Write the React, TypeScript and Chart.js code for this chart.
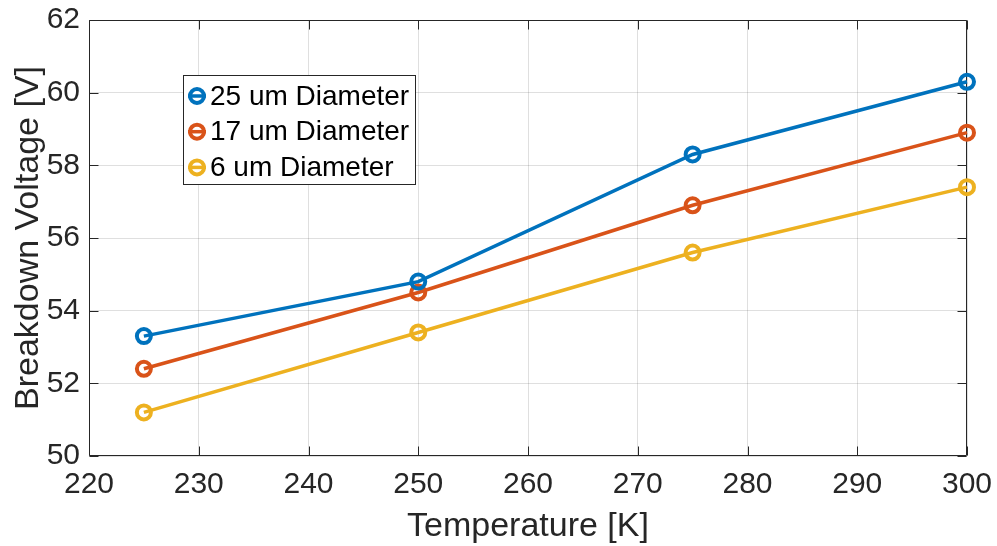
import { useEffect, useRef } from "react";
import { Chart, registerables } from "chart.js";

Chart.register(...registerables);

const temperatures = [225, 250, 275, 300];
const voltage25um = [53.3, 54.8, 58.3, 60.3];
const voltage17um = [52.4, 54.5, 56.9, 58.9];
const voltage6um = [51.2, 53.4, 55.6, 57.4];
const seriesLabels = ["25 um Diameter", "17 um Diameter", "6 um Diameter"];
const seriesColors = ["#0072BD", "#D95319", "#EDB120"];
const xTickValues = [220, 230, 240, 250, 260, 270, 280, 290, 300];
const yTickValues = [50, 52, 54, 56, 58, 60, 62];
const xTitle = "Temperature [K]";
const yTitle = "Breakdown Voltage [V]";

const FONT = "'Liberation Sans', Arial, Helvetica, sans-serif";
const AXIS = "#262626";

const boxPlugin = {
  id: "matlabBox",
  beforeDatasetsDraw(chart: any) {
    const { ctx, chartArea } = chart;
    const { left, right, top, bottom } = chartArea;
    const xs = chart.scales.x;
    const ys = chart.scales.y;
    ctx.save();
    ctx.strokeStyle = AXIS;
    ctx.lineWidth = 1;
    ctx.beginPath();
    const L = Math.round(left) + 0.5;
    const R = Math.round(right) - 0.5;
    const T = Math.round(top) + 0.5;
    const B = Math.round(bottom) - 0.5;
    ctx.rect(L, T, R - L, B - T);
    const tl = 9;
    xTickValues.forEach((v) => {
      const px = Math.round(xs.getPixelForValue(v)) + 0.5;
      ctx.moveTo(px, B);
      ctx.lineTo(px, B - tl);
      ctx.moveTo(px, T);
      ctx.lineTo(px, T + tl);
    });
    yTickValues.forEach((v) => {
      const py = Math.round(ys.getPixelForValue(v)) + 0.5;
      ctx.moveTo(L, py);
      ctx.lineTo(L + tl, py);
      ctx.moveTo(R, py);
      ctx.lineTo(R - tl, py);
    });
    ctx.stroke();
    ctx.restore();
  },
};

const legendPlugin = {
  id: "insideLegend",
  afterDraw(chart: any) {
    const { ctx } = chart;
    const x0 = 183.5;
    const y0 = 75.5;
    const w = 232;
    const h = 109;
    ctx.save();
    ctx.fillStyle = "#ffffff";
    ctx.fillRect(x0, y0, w, h);
    ctx.strokeStyle = AXIS;
    ctx.lineWidth = 1;
    ctx.strokeRect(x0, y0, w, h);
    chart.data.datasets.forEach((ds: any, i: number) => {
      const cy = 96 + i * 35.7;
      const cx = 197;
      ctx.strokeStyle = ds.borderColor;
      ctx.lineWidth = 3.5;
      ctx.beginPath();
      ctx.moveTo(cx - 9, cy);
      ctx.lineTo(cx + 9, cy);
      ctx.stroke();
      ctx.lineWidth = 4;
      ctx.beginPath();
      ctx.arc(cx, cy, 7, 0, Math.PI * 2);
      ctx.stroke();
      ctx.fillStyle = "#000000";
      ctx.font = `28px ${FONT}`;
      ctx.textBaseline = "middle";
      ctx.textAlign = "left";
      ctx.fillText(ds.label, 210, cy + 1);
    });
    ctx.restore();
  },
};

export default function App() {
  const canvasRef = useRef<HTMLCanvasElement | null>(null);

  useEffect(() => {
    if (!canvasRef.current) return;
    const series = [voltage25um, voltage17um, voltage6um];
    const chart = new Chart(canvasRef.current, {
      type: "line",
      data: {
        datasets: series.map((vals, i) => ({
          label: seriesLabels[i],
          data: temperatures.map((t, j) => ({ x: t, y: vals[j] })),
          borderColor: seriesColors[i],
          backgroundColor: "rgba(0,0,0,0)",
          borderWidth: 3.5,
          pointRadius: 7,
          pointBorderWidth: 4,
          pointBackgroundColor: "rgba(0,0,0,0)",
          pointBorderColor: seriesColors[i],
          tension: 0,
          clip: false as any,
        })),
      },
      options: {
        responsive: false,
        animation: false,
        layout: { padding: { top: 20, right: 30, left: 0, bottom: 0 } },
        plugins: {
          legend: { display: false },
          tooltip: { enabled: false },
        },
        scales: {
          x: {
            type: "linear",
            min: 220,
            max: 300,
            afterBuildTicks: (scale: any) => {
              scale.ticks = xTickValues.map((v) => ({ value: v }));
            },
            afterFit: (scale: any) => {
              scale.height = 90;
              scale.paddingLeft = 0;
              scale.paddingRight = 0;
            },
            grid: {
              color: "rgba(38,38,38,0.15)",
              lineWidth: 1,
              drawTicks: false,
            },
            border: { display: false },
            ticks: {
              color: AXIS,
              font: { family: FONT, size: 30 },
              padding: 11,
              maxRotation: 0,
              autoSkip: false,
            },
            title: {
              display: true,
              text: xTitle,
              color: AXIS,
              font: { family: FONT, size: 34, lineHeight: 1 },
              padding: { top: 0, bottom: 2 },
            },
          },
          y: {
            type: "linear",
            min: 50,
            max: 62,
            afterBuildTicks: (scale: any) => {
              scale.ticks = yTickValues.map((v) => ({ value: v }));
            },
            afterFit: (scale: any) => {
              scale.width = 89;
              scale.paddingTop = 0;
              scale.paddingBottom = 0;
            },
            grid: {
              color: "rgba(38,38,38,0.15)",
              lineWidth: 1,
              drawTicks: false,
            },
            border: { display: false },
            ticks: {
              color: AXIS,
              font: { family: FONT, size: 30 },
              padding: 9,
              autoSkip: false,
            },
            title: {
              display: true,
              text: yTitle,
              color: AXIS,
              font: { family: FONT, size: 34, lineHeight: 1 },
              padding: { top: 12, bottom: 0 },
            },
          },
        },
      },
      plugins: [boxPlugin, legendPlugin],
    });
    return () => chart.destroy();
  }, []);

  return (
    <div style={{ position: "fixed", left: 0, top: 0, width: 997, height: 546, background: "#ffffff" }}>
      <canvas ref={canvasRef} width={997} height={546} style={{ display: "block" }} />
    </div>
  );
}
